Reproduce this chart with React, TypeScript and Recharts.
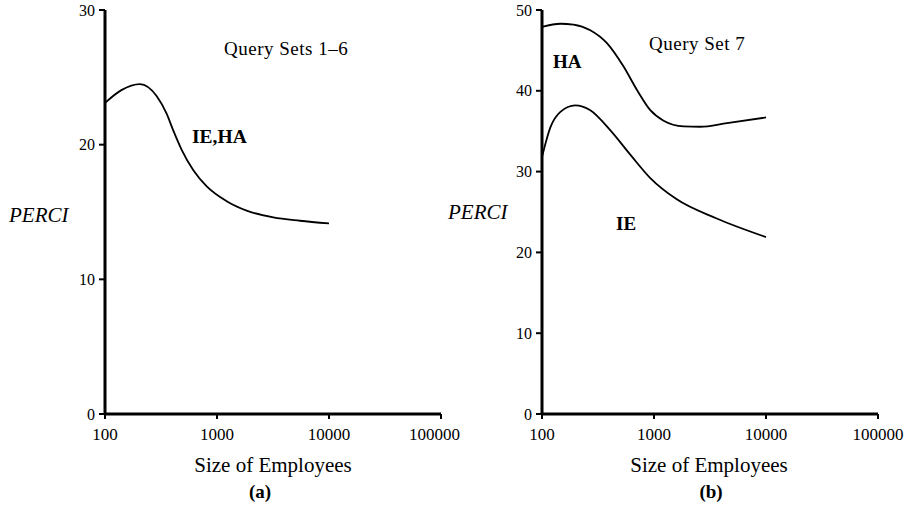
import { LineChart, Line, XAxis, YAxis } from "recharts"

// panel (a): query sets 1-6, IE and HA coincide
const sizesA = [100, 140, 205, 290, 355, 405, 485, 615, 810, 1220, 1840, 3180, 5500, 10000]
const perciA = [23.1, 24.05, 24.5, 23.6, 22.3, 21.1, 19.6, 18.1, 16.9, 15.8, 15.1, 14.6, 14.35, 14.15]

// panel (b): query set 7
const sizesHA = [100, 146, 191, 270, 380, 535, 705, 927, 1218, 1837, 2588, 4487, 10000]
const perciHA = [47.9, 48.3, 48.2, 47.5, 45.9, 43.0, 40.1, 37.6, 36.3, 35.6, 35.55, 36.0, 36.7]
const sizesIE = [100, 119, 146, 198, 270, 408, 614, 927, 1585, 3630, 10000]
const perciIE = [31.8, 35.5, 37.4, 38.2, 37.6, 35.1, 32.1, 29.2, 26.6, 24.2, 21.9]

const xTicks = [100, 1000, 10000, 100000]
const yTicksA = [0, 10, 20, 30]
const yTicksB = [0, 10, 20, 30, 40, 50]

const FONT = "'Liberation Serif', 'Times New Roman', serif"

const zip = (xs: number[], ys: number[]) => xs.map((x, i) => ({ size: x, perci: ys[i] }))

function Panel({ width, left, right, yMax, yTicks, series }: {
    width: number; left: number; right: number; yMax: number; yTicks: number[]
    series: { size: number; perci: number }[][]
}) {
    // axis sizes come out of the margins so the plot box lands where the reference has it
    return (
        <LineChart width={width} height={512} margin={{ top: 10, right, bottom: 98 - 30, left: left - 40 }}>
            <XAxis type="number" dataKey="size" scale="log" domain={[100, 100000]} ticks={xTicks}
                allowDataOverflow height={30} tickSize={5} tickMargin={9}
                axisLine={{ stroke: "#000", strokeWidth: 3 }} tickLine={{ stroke: "#000", strokeWidth: 2 }}
                tick={{ fill: "#000", fontSize: 17, fontFamily: FONT }} />
            <YAxis type="number" domain={[0, yMax]} ticks={yTicks} width={40} tickSize={6} tickMargin={4}
                axisLine={{ stroke: "#000", strokeWidth: 3 }} tickLine={{ stroke: "#000", strokeWidth: 2 }}
                tick={{ fill: "#000", fontSize: 16, fontFamily: FONT }} />
            {series.map((d, i) => (
                <Line key={i} data={d} dataKey="perci" type="monotone" stroke="#000" strokeWidth={1.8}
                    dot={false} isAnimationActive={false} />
            ))}
        </LineChart>
    )
}

export default function App() {
    const t = { fontFamily: FONT, fill: "#000" }
    return (
        <div style={{ position: "absolute", left: 0, top: 0, width: 907, height: 512, background: "#fff" }}>
            <div style={{ position: "absolute", left: 0, top: 0 }}>
                <Panel width={460} left={105} right={19} yMax={30} yTicks={yTicksA} series={[zip(sizesA, perciA)]} />
            </div>
            <div style={{ position: "absolute", left: 450, top: 0 }}>
                <Panel width={457} left={92} right={29} yMax={50} yTicks={yTicksB}
                    series={[zip(sizesHA, perciHA), zip(sizesIE, perciIE)]} />
            </div>
            <svg width={907} height={512} style={{ position: "absolute", left: 0, top: 0, pointerEvents: "none" }}>
                <text x={224} y={55} fontSize={19} letterSpacing={0.5} {...t}>Query Sets 1–6</text>
                <text x={192} y={143} fontSize={19.5} fontWeight="bold" {...t}>IE,HA</text>
                <text x={9} y={222} fontSize={21} fontStyle="italic" {...t}>PERCI</text>
                <text x={273} y={472} fontSize={21} textAnchor="middle" {...t}>Size of Employees</text>
                <text x={260} y={498} fontSize={19} fontWeight="bold" textAnchor="middle" {...t}>(a)</text>

                <text x={649} y={50} fontSize={19} letterSpacing={0.5} {...t}>Query Set 7</text>
                <text x={553} y={68} fontSize={19} fontWeight="bold" {...t}>HA</text>
                <text x={616} y={230} fontSize={19} fontWeight="bold" {...t}>IE</text>
                <text x={448} y={219} fontSize={21} fontStyle="italic" {...t}>PERCI</text>
                <text x={709} y={472} fontSize={21} textAnchor="middle" {...t}>Size of Employees</text>
                <text x={711} y={498} fontSize={19} fontWeight="bold" textAnchor="middle" {...t}>(b)</text>
            </svg>
        </div>
    )
}
